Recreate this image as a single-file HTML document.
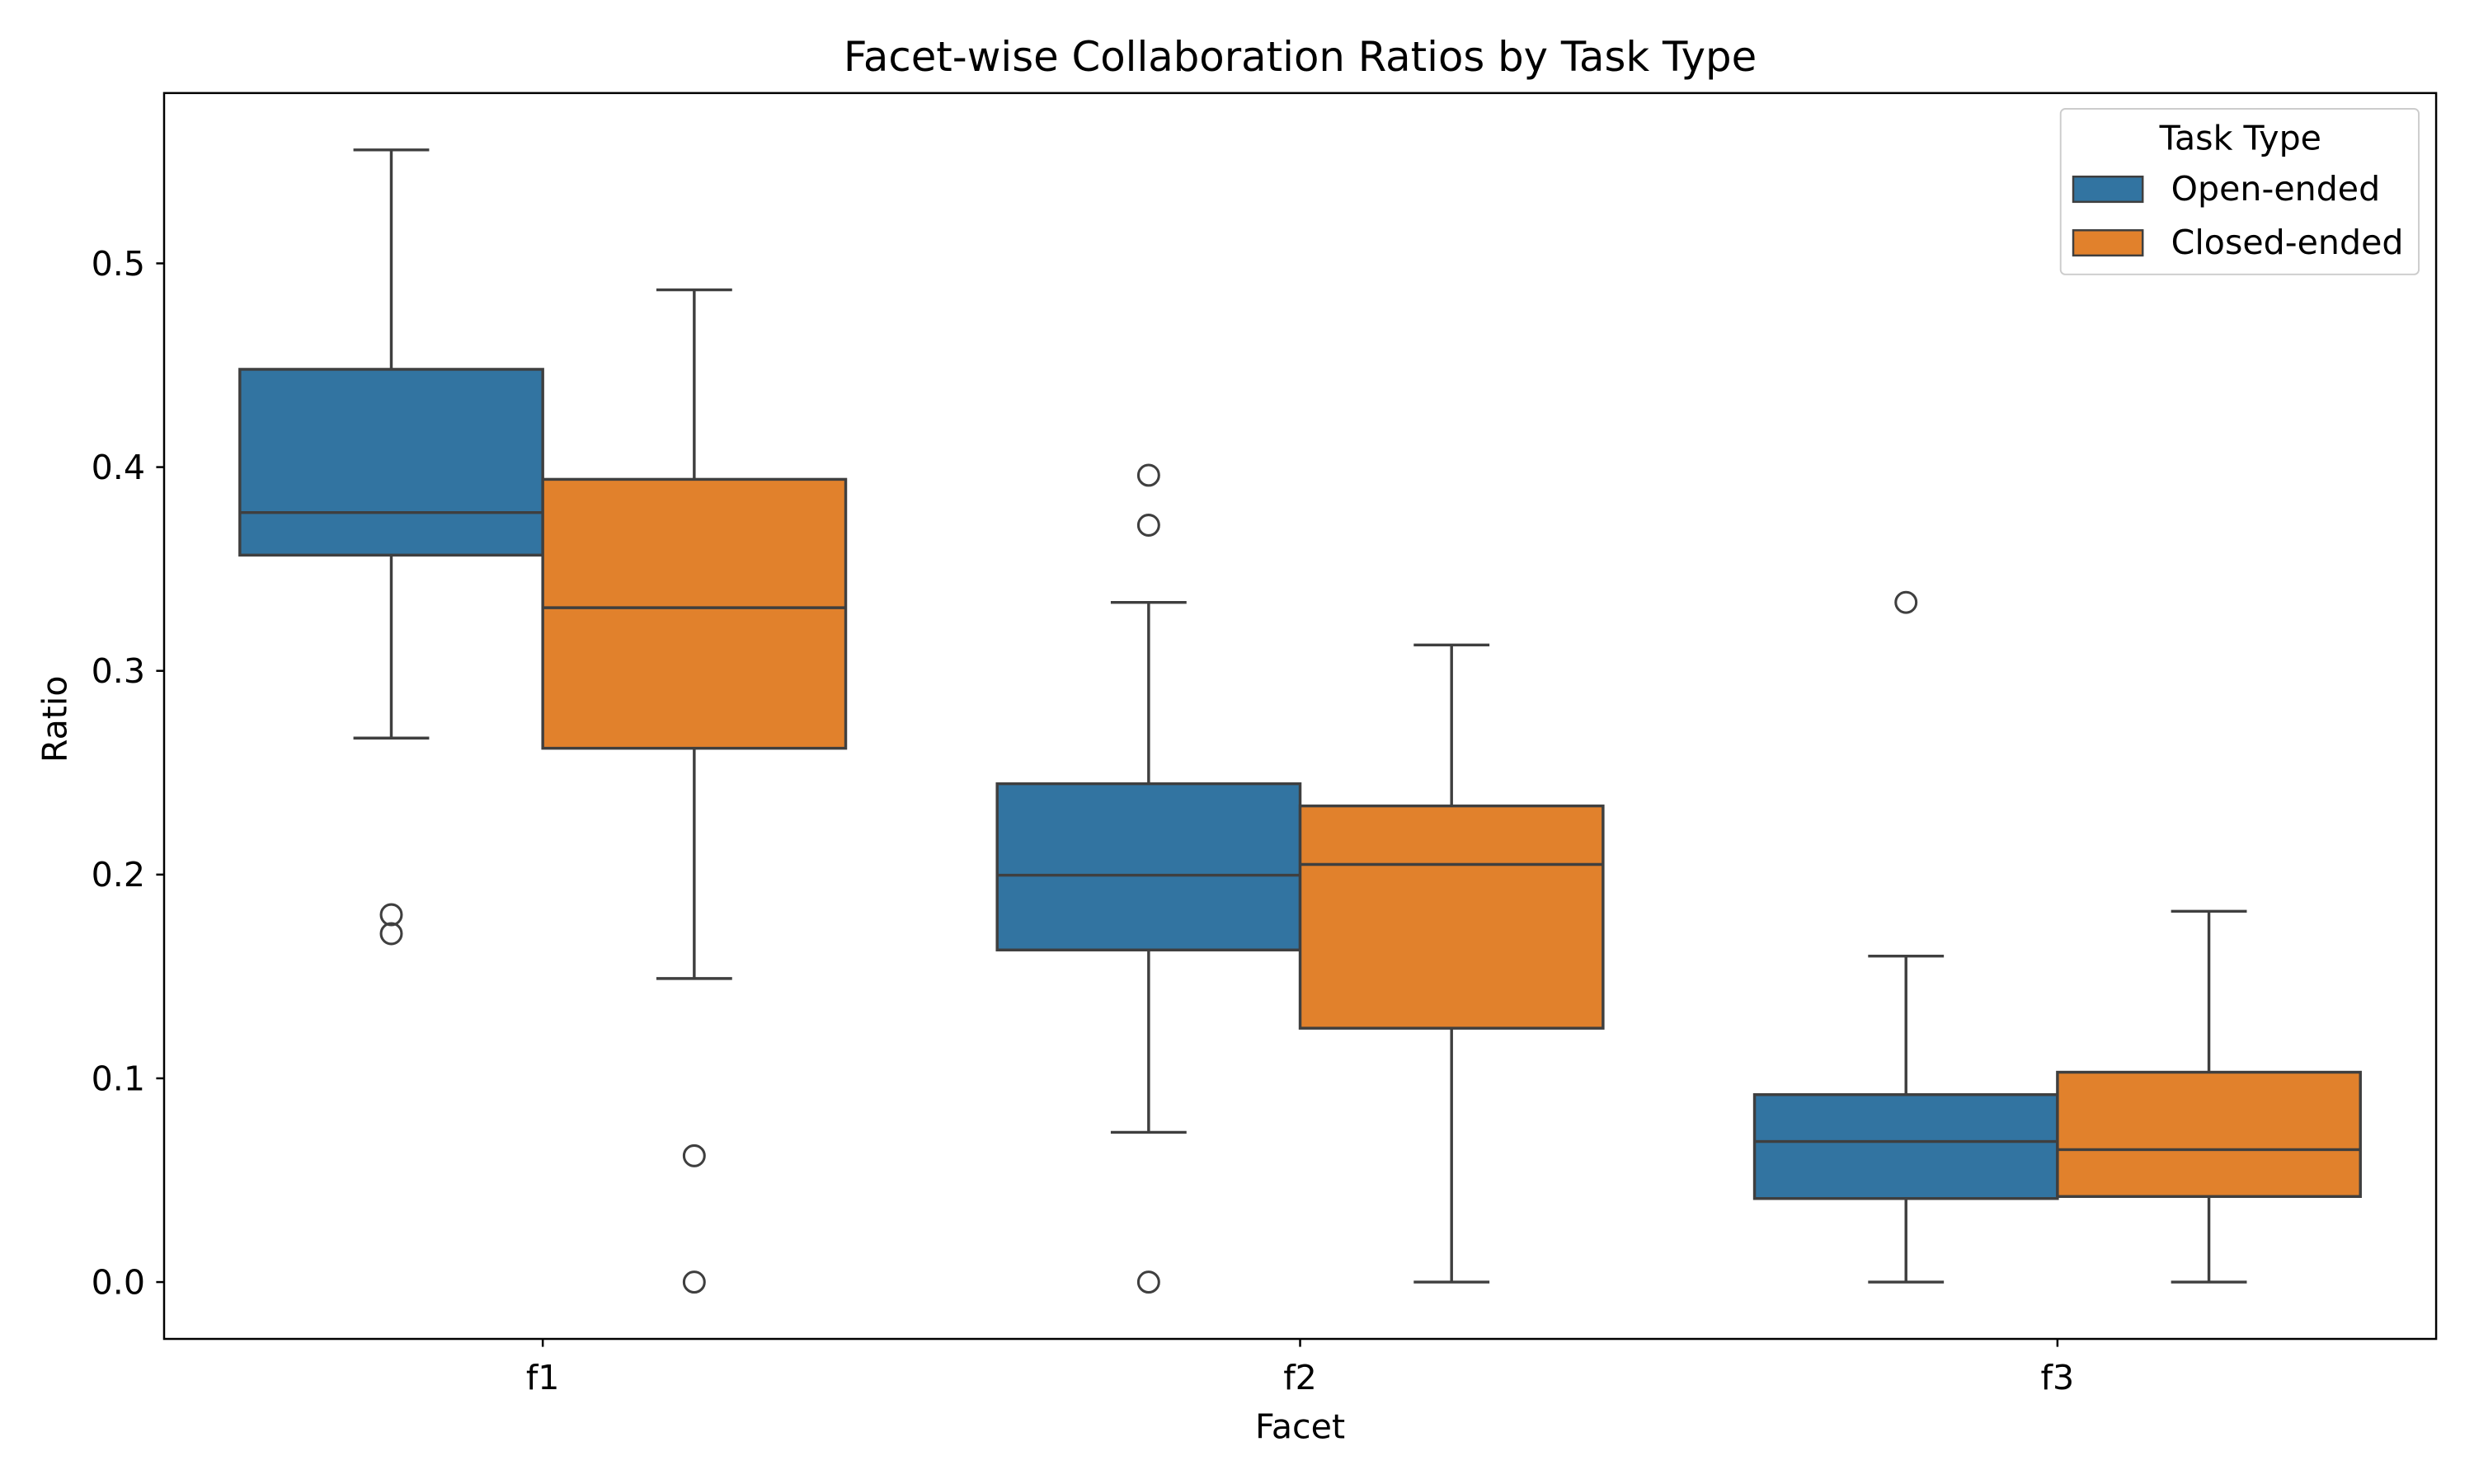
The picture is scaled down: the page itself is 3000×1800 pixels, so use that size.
<!DOCTYPE html>
<html><head><meta charset="utf-8"><style>
html,body{margin:0;padding:0;background:#fff;}
svg{display:block;}
text{font-family:"DejaVu Sans","Liberation Sans",sans-serif;fill:#000;}
</style></head><body>
<svg id="chart" width="3000" height="1800" viewBox="0 0 1568 941" preserveAspectRatio="none" xmlns="http://www.w3.org/2000/svg">
<rect x="0" y="0" width="1568" height="941" fill="#fff"/>
<text x="824" y="45" font-size="26" text-anchor="middle">Facet-wise Collaboration Ratios by Task Type</text>
<g id="plot"></g>
<rect x="104" y="59" width="1440" height="790" fill="none" stroke="#000" stroke-width="1.3"/>
<text x="824" y="912" font-size="21.5" text-anchor="middle">Facet</text>
<text transform="translate(42,456) rotate(-90)" font-size="21.5" text-anchor="middle">Ratio</text>
<g>
<rect x="1306" y="69" width="227" height="105" rx="3" fill="#fff" fill-opacity="0.8" stroke="#ccc" stroke-width="1"/>
<text x="1420" y="95" font-size="21.5" text-anchor="middle">Task Type</text>
<g>
<rect x="1314" y="112" width="44" height="16" fill="#3274a1" stroke="#3f3f3f" stroke-width="1.3"/>
<text x="1376" y="127" font-size="21.5">Open-ended</text></g>
<g>
<rect x="1314" y="146" width="44" height="16" fill="#e1812c" stroke="#3f3f3f" stroke-width="1.3"/>
<text x="1376" y="161" font-size="21.5">Closed-ended</text></g>
</g>
</svg>
<script>
const categories = ["f1","f2","f3"];
const hues = ["Open-ended","Closed-ended"];
const colors = ["#3274a1","#e1812c"];
const openStats = [ // [lowWhisker, q1, median, q3, highWhisker]
  [0.267,0.3568,0.3777,0.448,0.5557],
  [0.0735,0.163,0.1997,0.2446,0.3336],
  [0,0.041,0.069,0.092,0.160]];
const closedStats = [
  [0.149,0.262,0.331,0.394,0.487],
  [0,0.1246,0.205,0.2337,0.3127],
  [0,0.042,0.065,0.103,0.182]];
const openOutliers = [[0.1803,0.171],[0.396,0.3715,0],[0.3336]];
const closedOutliers = [[0.062,0],[],[]];
const yTicks = [0,0.1,0.2,0.3,0.4,0.5];
const yTickLabels = ["0.0","0.1","0.2","0.3","0.4","0.5"];

const NS="http://www.w3.org/2000/svg";
const plotG=document.getElementById('plot');
const yMin=-0.0279,yMax=0.5836,plotTop=59,plotBot=849;
function yScale(v){return plotBot-(v-yMin)/(yMax-yMin)*(plotBot-plotTop);}
function xc(i){return 344+480*i;}
function mk(tag,attrs,parent){const e=document.createElementNS(NS,tag);for(const k in attrs)e.setAttribute(k,attrs[k]);(parent||plotG).appendChild(e);return e;}
const LC="#3f3f3f";
yTicks.forEach((t,i)=>{
  const tk=mk('line',{x1:99,x2:104,y1:yScale(t),y2:yScale(t),stroke:'#000','stroke-width':1.3});
  
  
  const tx=mk('text',{x:92,y:yScale(t)+7.5,'font-size':21.5,'text-anchor':'end'});
  tx.textContent=yTickLabels[i];
  
  
});
categories.forEach((c,i)=>{
  const tk=mk('line',{x1:xc(i),x2:xc(i),y1:849,y2:854,stroke:'#000','stroke-width':1.3});
  
  
  const tx=mk('text',{x:xc(i),y:881,'font-size':21.5,'text-anchor':'middle'});
  tx.textContent=c;
  
  
});
const allStats=[openStats,closedStats], allOuts=[openOutliers,closedOutliers];
allStats.forEach((stats,h)=>{
  stats.forEach((s,i)=>{
    const cx=xc(i)+(h===0?-96:96), w=192, x0=cx-w/2;
    const grp=mk('g',{});
    
    
    mk('line',{x1:cx,x2:cx,y1:yScale(s[3]),y2:yScale(s[4]),stroke:LC,'stroke-width':1.8},grp);
    mk('line',{x1:cx,x2:cx,y1:yScale(s[0]),y2:yScale(s[1]),stroke:LC,'stroke-width':1.8},grp);
    mk('line',{x1:cx-24,x2:cx+24,y1:yScale(s[4]),y2:yScale(s[4]),stroke:LC,'stroke-width':1.8},grp);
    mk('line',{x1:cx-24,x2:cx+24,y1:yScale(s[0]),y2:yScale(s[0]),stroke:LC,'stroke-width':1.8},grp);
    mk('rect',{x:x0,y:yScale(s[3]),width:w,height:yScale(s[1])-yScale(s[3]),fill:colors[h],stroke:LC,'stroke-width':1.8},grp);
    mk('line',{x1:x0,x2:x0+w,y1:yScale(s[2]),y2:yScale(s[2]),stroke:LC,'stroke-width':1.8},grp);
    allOuts[h][i].forEach(v=>{
      const o=mk('circle',{cx:cx,cy:yScale(v),r:6.5,fill:'none',stroke:LC,'stroke-width':1.6},grp);
      
      
    });
  });
});
</script>
</body></html>
